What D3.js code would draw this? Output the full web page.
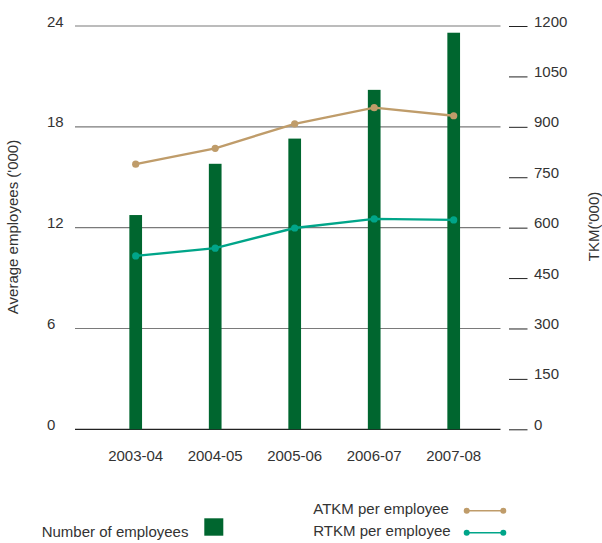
<!DOCTYPE html>
<html>
<head>
<meta charset="utf-8">
<script src="https://cdn.jsdelivr.net/npm/d3@7"></script>
<style>
  html, body { margin: 0; padding: 0; background: #fff; }
  svg { display: block; font-family: "Liberation Sans", Arial, Helvetica, sans-serif; }
</style>
</head>
<body>
<svg id="chart" width="602" height="543"></svg>
<script>
// Employees and traffic per employee, 2003-04 to 2007-08
const years = ["2003-04", "2004-05", "2005-06", "2006-07", "2007-08"];
const employees = [12.75, 15.8, 17.3, 20.2, 23.6];      // average employees ('000)
const atkmPerEmployee = [789, 836, 909, 957, 933];       // TKM ('000)
const rtkmPerEmployee = [516, 539, 599, 626, 623];       // TKM ('000)
const leftTicks = [0, 6, 12, 18, 24];
const rightTicks = [0, 150, 300, 450, 600, 750, 900, 1050, 1200];

const colors = { bar: "#00662f", atkm: "#bf9c6a", rtkm: "#00a589", text: "#333" };

const svg = d3.select("#chart");

const x = d3.scalePoint().domain(years).range([135.7, 453.7]);
const yLeft = d3.scaleLinear().domain([0, 24]).range([429.3, 26]);
const yRight = d3.scaleLinear().domain([0, 1200]).range([429.3, 26]);

const plotLeft = 75, plotRight = 500.5;
const barWidth = 12.7;

// horizontal grid
svg.append("g")
  .selectAll("line")
  .data(leftTicks.filter(d => d > 0))
  .join("line")
  .attr("x1", plotLeft).attr("x2", plotRight)
  .attr("y1", d => yLeft(d)).attr("y2", d => yLeft(d))
  .attr("stroke", "#7a7a7a").attr("stroke-width", 1.2);

// baseline
svg.append("line")
  .attr("x1", plotLeft).attr("x2", plotRight)
  .attr("y1", yLeft(0)).attr("y2", yLeft(0))
  .attr("stroke", "#222").attr("stroke-width", 1.2);

// left axis labels (left-aligned, sitting on their grid line)
const leftAxis = svg.append("g")
  .attr("transform", "translate(47,0)")
  .call(d3.axisRight(yLeft).tickValues(leftTicks).tickFormat(d3.format("d")).tickSize(0).tickPadding(0));
leftAxis.select(".domain").remove();
leftAxis.selectAll("text")
  .attr("dy", "0em").attr("text-anchor", "start")
  .attr("font-size", 15).attr("fill", colors.text)
  .attr("font-family", null);

// right axis with short detached ticks
const rightAxis = svg.append("g")
  .attr("transform", "translate(509,0)")
  .call(d3.axisRight(yRight).tickValues(rightTicks).tickFormat(d3.format("d")).tickSize(18.5).tickPadding(6.5));
rightAxis.select(".domain").remove();
rightAxis.selectAll("line").attr("stroke", "#222").attr("stroke-width", 1);
rightAxis.selectAll("text")
  .attr("dy", "0em")
  .attr("font-size", 15).attr("fill", colors.text)
  .attr("font-family", null);

// bars
svg.append("g")
  .selectAll("rect")
  .data(years.map((y, i) => ({ year: y, value: employees[i] })))
  .join("rect")
  .attr("x", d => x(d.year) - barWidth / 2)
  .attr("width", barWidth)
  .attr("y", d => yLeft(d.value))
  .attr("height", d => yLeft(0) - yLeft(d.value))
  .attr("fill", colors.bar);

// lines with markers
function drawSeries(values, color) {
  const pts = years.map((y, i) => [x(y), yRight(values[i])]);
  svg.append("path")
    .attr("d", d3.line()(pts))
    .attr("fill", "none")
    .attr("stroke", color)
    .attr("stroke-width", 2.4);
  svg.append("g")
    .selectAll("circle")
    .data(pts)
    .join("circle")
    .attr("cx", d => d[0]).attr("cy", d => d[1])
    .attr("r", 3.6)
    .attr("fill", color);
}
drawSeries(atkmPerEmployee, colors.atkm);
drawSeries(rtkmPerEmployee, colors.rtkm);

// x labels
svg.append("g")
  .selectAll("text")
  .data(years)
  .join("text")
  .attr("x", d => x(d))
  .attr("y", 460.5)
  .attr("text-anchor", "middle")
  .attr("font-size", 15)
  .attr("fill", colors.text)
  .text(d => d);

// axis titles
svg.append("text")
  .attr("transform", "translate(18,227) rotate(-90)")
  .attr("text-anchor", "middle")
  .attr("font-size", 15)
  .attr("fill", colors.text)
  .text("Average employees ('000)");

svg.append("text")
  .attr("transform", "translate(599,226.5) rotate(-90)")
  .attr("text-anchor", "middle")
  .attr("font-size", 15)
  .attr("fill", colors.text)
  .text("TKM('000)");

// legend
svg.append("text")
  .attr("x", 41.7).attr("y", 536.5)
  .attr("font-size", 15).attr("fill", colors.text)
  .text("Number of employees");
svg.append("rect")
  .attr("x", 204.3).attr("y", 518.3)
  .attr("width", 19).attr("height", 17.4)
  .attr("fill", colors.bar);

const lineLegend = [
  { label: "ATKM per employee", color: colors.atkm, y: 510.7 },
  { label: "RTKM per employee", color: colors.rtkm, y: 532.7 }
];
const lg = svg.append("g").selectAll("g").data(lineLegend).join("g");
lg.append("text")
  .attr("x", 313.3).attr("y", d => d.y + 3.6)
  .attr("font-size", 15).attr("fill", colors.text)
  .text(d => d.label);
lg.append("line")
  .attr("x1", 466.7).attr("x2", 503.3)
  .attr("y1", d => d.y).attr("y2", d => d.y)
  .attr("stroke", d => d.color).attr("stroke-width", 1.6);
lg.selectAll("circle")
  .data(d => [[466.7, d.y, d.color], [503.3, d.y, d.color]])
  .join("circle")
  .attr("cx", d => d[0]).attr("cy", d => d[1])
  .attr("r", 3).attr("fill", d => d[2]);
</script>
</body>
</html>
